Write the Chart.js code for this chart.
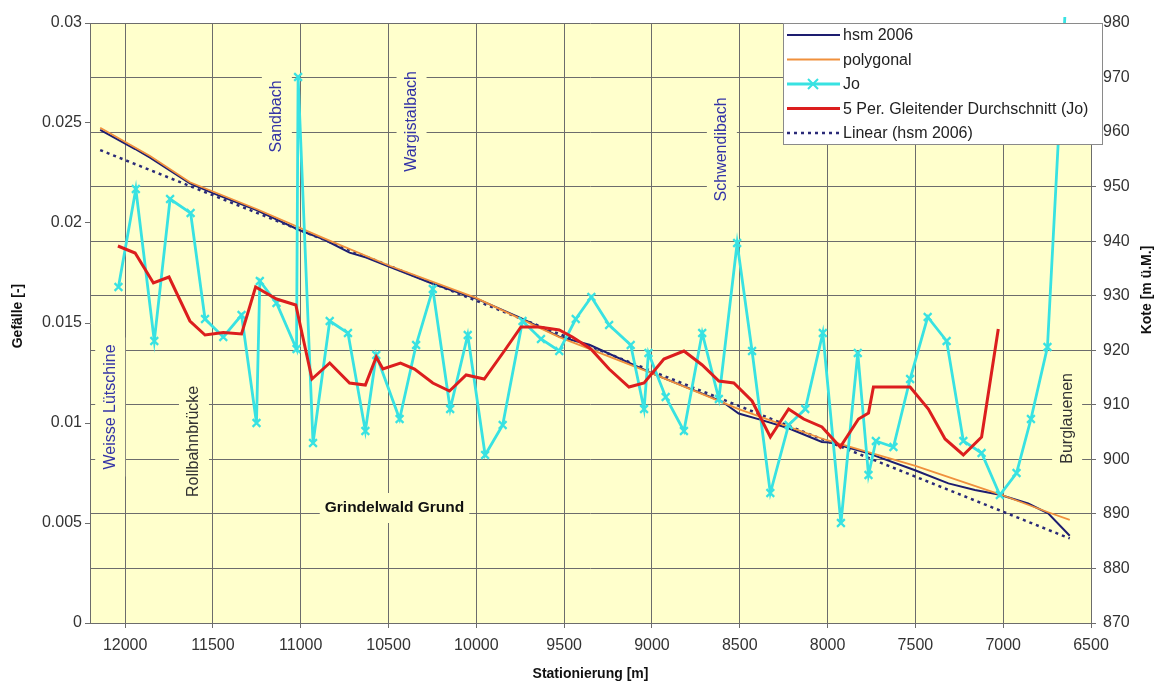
<!DOCTYPE html>
<html>
<head>
<meta charset="utf-8">
<script src="https://cdn.jsdelivr.net/npm/chart.js@4.4.1/dist/chart.umd.min.js"></script>
<style>
  html, body { margin: 0; padding: 0; background: #ffffff; }
  canvas { display: block; }
</style>
</head>
<body>
<canvas id="chart" width="1154" height="683"></canvas>
<script>
// Gefälle Jo (left axis) by Stationierung
const joStation = [12038, 11939, 11834, 11744, 11627, 11545, 11441, 11337, 11252, 11233,
  11138, 11024, 11015, 10930, 10835, 10731, 10632, 10570, 10437, 10343,
  10248, 10149, 10049, 9950, 9850, 9737, 9632, 9528, 9434, 9345,
  9244, 9121, 9045, 9020, 8922, 8818, 8714, 8619, 8515, 8430,
  8326, 8222, 8127, 8027, 7924, 7828, 7767, 7725, 7625, 7530,
  7430, 7322, 7227, 7123, 7019, 6924, 6842, 6748, 6649];
const joGefaelle = [0.0168, 0.0217, 0.0141, 0.0212, 0.0205, 0.0152, 0.0143, 0.0154, 0.0100, 0.0171,
  0.0160, 0.0137, 0.0273, 0.0090, 0.0151, 0.0145, 0.0096, 0.0134, 0.0102, 0.0139,
  0.0167, 0.0107, 0.0144, 0.0084, 0.0099, 0.0151, 0.0142, 0.0136, 0.0152, 0.0163,
  0.0149, 0.0139, 0.0107, 0.0135, 0.0113, 0.0096, 0.0145, 0.0112, 0.0190, 0.0136,
  0.0065, 0.0099, 0.0107, 0.0145, 0.0050, 0.0135, 0.0074, 0.0091, 0.0088, 0.0122,
  0.0153, 0.0141, 0.0091, 0.0085, 0.0064, 0.0075, 0.0102, 0.0138, 0.0303];

// 5-period moving average of Jo (left axis)
const mittelStation = [12041, 11943, 11839, 11750, 11631, 11545, 11441, 11337, 11257, 11138,
  11028, 10936, 10835, 10722, 10632, 10570, 10532, 10432, 10352, 10248,
  10153, 10058, 9955, 9841, 9746, 9642, 9528, 9453, 9348, 9244,
  9131, 9045, 8932, 8818, 8714, 8619, 8534, 8430, 8326, 8222,
  8136, 8032, 7928, 7824, 7767, 7739, 7578, 7530, 7426, 7331,
  7227, 7123, 7028];
const mittelGefaelle = [0.01885, 0.0185, 0.0170, 0.0173, 0.0151, 0.0144, 0.01453, 0.01445, 0.0168, 0.0162,
  0.0159, 0.0122, 0.0130, 0.0120, 0.0119, 0.0133, 0.0127, 0.0130, 0.0127, 0.0120,
  0.0116, 0.0124, 0.0122, 0.0136, 0.0148, 0.0148, 0.01465, 0.0143, 0.0137, 0.0127,
  0.0118, 0.0120, 0.0132, 0.0136, 0.0129, 0.0121, 0.0120, 0.0111, 0.0093, 0.0107,
  0.0102, 0.0098, 0.0088, 0.0102, 0.0105, 0.0118, 0.0118, 0.0118, 0.0107, 0.0092,
  0.0084, 0.0093, 0.0147];

// Sohlenkote hsm 2006 (right axis)
const hsmStation = [12142, 11943, 11858, 11631, 11500, 11252, 11006, 10873, 10722, 10627,
  10494, 10248, 10002, 9746, 9528, 9356, 8979, 8601, 8506, 8374,
  8222, 8032, 7985, 7767, 7502, 7312, 7161, 7019, 6858, 6744, 6621];
const hsmKote = [960.4, 956.9, 955.3, 950.6, 948.8, 945.7, 942.0, 940.4, 937.9, 937.0,
  935.3, 932.2, 929.5, 925.9, 922.5, 921.0, 915.5, 910.6, 908.4, 907.2,
  905.7, 903.2, 903.1, 901.1, 898.0, 895.6, 894.4, 893.5, 891.9, 890.1, 886.0];

// Polygonal approximation of the bed (right axis)
const polyStation = [12142, 11858, 11631, 11252, 10873, 10494, 10002, 9528, 9017, 8506,
  8013, 7500, 7019, 6744, 6621];
const polyKote = [960.8, 955.6, 950.8, 945.9, 940.6, 935.5, 929.6, 922.4, 916.0, 909.2,
  903.6, 898.8, 893.6, 890.3, 888.9];

// Linear trend of hsm 2006 (end points)
const trendStation = [12142, 6621];
const trendKote = [956.7, 885.5];

// Axis tick values
const stationTicks = [12000, 11500, 11000, 10500, 10000, 9500, 9000, 8500, 8000, 7500, 7000, 6500];
const gefaelleTicks = [0, 0.005, 0.01, 0.015, 0.02, 0.025, 0.03];
const koteTicks = [870, 880, 890, 900, 910, 920, 930, 940, 950, 960, 970, 980];

// Place names along the reach: [text, Stationierung, Gefälle, style]
const ortNamen = [
  ['Weisse Lütschine', 12085, 0.0108, 'fluss'],
  ['Sandbach', 11136, 0.02533, 'fluss'],
  ['Wargistalbach', 10369, 0.02508, 'fluss'],
  ['Schwendibach', 8602, 0.02368, 'fluss'],
  ['Rollbahnbrücke', 11608, 0.00908, 'ort'],
  ['Burglauenen', 6636, 0.01023, 'ort'],
  ['Grindelwald Grund', 10466, 0.00575, 'gebiet']
];

const pts = (xs, ys) => xs.map((x, i) => ({ x: x, y: ys[i] }));
const asTicks = (vals) => vals.map(v => ({ value: v }));

const FONT = '"Liberation Sans", Arial, Helvetica, sans-serif';
const PLOT_BG = '#ffffcc';
const GRID = '#6c6c6c';
const CYAN = '#38e2e2';

Chart.defaults.font.family = FONT;

const plotBackground = {
  id: 'plotBackground',
  beforeDraw(chart) {
    const { ctx, chartArea: a } = chart;
    ctx.save();
    ctx.fillStyle = PLOT_BG;
    ctx.fillRect(a.left, a.top, a.right - a.left, a.bottom - a.top);
    ctx.restore();
  }
};

const placeLabels = {
  id: 'placeLabels',
  beforeDatasetsDraw(chart) {
    const { ctx } = chart;
    const xs = chart.scales.x, ys = chart.scales.yL;
    ctx.save();
    ortNamen.forEach(([text, st, val, kind]) => {
      const px = xs.getPixelForValue(st);
      const py = ys.getPixelForValue(val);
      if (kind === 'gebiet') {
        ctx.font = 'bold 15.5px ' + FONT;
        const w = ctx.measureText(text).width;
        ctx.fillStyle = PLOT_BG;
        ctx.fillRect(px - w / 2 - 5, py - 15, w + 10, 30);
        ctx.fillStyle = '#111111';
        ctx.textAlign = 'center';
        ctx.textBaseline = 'middle';
        ctx.fillText(text, px, py);
      } else {
        ctx.font = '16px ' + FONT;
        const w = ctx.measureText(text).width;
        ctx.fillStyle = PLOT_BG;
        ctx.fillRect(px - 15, py - w / 2 - 7, 30, w + 14);
        ctx.translate(px, py);
        ctx.rotate(-Math.PI / 2);
        ctx.fillStyle = kind === 'fluss' ? '#3434a6' : '#333333';
        ctx.textAlign = 'center';
        ctx.textBaseline = 'middle';
        ctx.fillText(text, 0, 0);
        ctx.setTransform(1, 0, 0, 1, 0, 0);
      }
    });
    ctx.restore();
  }
};

const titlesAndLegend = {
  id: 'titlesAndLegend',
  afterDraw(chart) {
    const { ctx, chartArea: a } = chart;
    ctx.save();
    // axis titles
    ctx.fillStyle = '#111111';
    ctx.font = 'bold 14px ' + FONT;
    ctx.textAlign = 'center';
    ctx.textBaseline = 'middle';
    ctx.fillText('Stationierung [m]', (a.left + a.right) / 2, 674);
    ctx.translate(18, 316);
    ctx.rotate(-Math.PI / 2);
    ctx.fillText('Gefälle [-]', 0, 0);
    ctx.setTransform(1, 0, 0, 1, 0, 0);
    ctx.translate(1147, 290);
    ctx.rotate(-Math.PI / 2);
    ctx.fillText('Kote [m ü.M.]', 0, 0);
    ctx.setTransform(1, 0, 0, 1, 0, 0);

    // legend box
    const lx = 783, ly = a.top, lw = 320, lh = 122;
    ctx.fillStyle = '#ffffff';
    ctx.fillRect(lx, ly, lw, lh);
    ctx.strokeStyle = '#8a8a8a';
    ctx.lineWidth = 1;
    ctx.strokeRect(lx + 0.5, ly + 0.5, lw - 1, lh - 1);
    ctx.font = '16px ' + FONT;
    ctx.textAlign = 'left';
    ctx.textBaseline = 'middle';
    chart.data.datasets.forEach((ds, i) => {
      const yy = ly + 12 + i * 24.5;
      ctx.save();
      ctx.strokeStyle = ds.borderColor;
      ctx.lineWidth = ds.borderWidth;
      ctx.setLineDash(ds.borderDash || []);
      ctx.beginPath();
      ctx.moveTo(787, yy);
      ctx.lineTo(840, yy);
      ctx.stroke();
      if (ds.pointStyle === 'crossRot') {
        ctx.setLineDash([]);
        ctx.lineWidth = 2;
        const r = 5;
        ctx.beginPath();
        ctx.moveTo(813 - r, yy - r); ctx.lineTo(813 + r, yy + r);
        ctx.moveTo(813 - r, yy + r); ctx.lineTo(813 + r, yy - r);
        ctx.stroke();
      }
      ctx.restore();
      ctx.fillStyle = '#222222';
      ctx.fillText(ds.label, 843, yy + 1);
    });
    ctx.restore();
  }
};

new Chart(document.getElementById('chart'), {
  type: 'line',
  data: {
    datasets: [
      {
        label: 'hsm 2006',
        data: pts(hsmStation, hsmKote),
        yAxisID: 'yR',
        borderColor: '#1d1d70',
        borderWidth: 2,
        pointRadius: 0,
        order: 4
      },
      {
        label: 'polygonal',
        data: pts(polyStation, polyKote),
        yAxisID: 'yR',
        borderColor: '#f0903c',
        borderWidth: 1.8,
        pointRadius: 0,
        order: 2
      },
      {
        label: 'Jo',
        data: pts(joStation, joGefaelle),
        yAxisID: 'yL',
        borderColor: CYAN,
        borderWidth: 2.8,
        pointStyle: 'crossRot',
        pointRadius: (c) => (c.parsed && c.parsed.y > 0.03 ? 0 : 5.5),
        pointBorderWidth: 2.2,
        pointBorderColor: CYAN,
        pointBackgroundColor: CYAN,
        clip: false,
        order: 1
      },
      {
        label: '5 Per. Gleitender Durchschnitt (Jo)',
        data: pts(mittelStation, mittelGefaelle),
        yAxisID: 'yL',
        borderColor: '#dc1e1e',
        borderWidth: 3,
        pointRadius: 0,
        order: 0
      },
      {
        label: 'Linear (hsm 2006)',
        data: pts(trendStation, trendKote),
        yAxisID: 'yR',
        borderColor: '#2a2a78',
        borderWidth: 2.5,
        borderDash: [3, 4],
        pointRadius: 0,
        order: 3
      }
    ]
  },
  options: {
    responsive: false,
    animation: false,
    devicePixelRatio: 1,
    layout: { padding: { top: 23, left: 0, right: 0, bottom: 0 } },
    plugins: {
      legend: { display: false },
      tooltip: { enabled: false }
    },
    elements: { line: { tension: 0 } },
    scales: {
      x: {
        type: 'linear',
        reverse: true,
        min: 6500,
        max: 12200,
        afterBuildTicks(s) { s.ticks = asTicks(stationTicks); },
        afterFit(s) { s.height = 60; },
        ticks: {
          autoSkip: false,
          maxRotation: 0,
          padding: 8,
          color: '#333333',
          font: { size: 16 },
          callback: (v) => String(v)
        },
        grid: { color: GRID, lineWidth: 1, tickLength: 5 },
        border: { color: GRID }
      },
      yL: {
        position: 'left',
        min: 0,
        max: 0.03,
        afterBuildTicks(s) { s.ticks = asTicks(gefaelleTicks); },
        afterFit(s) { s.width = 90; },
        ticks: {
          padding: 3,
          color: '#333333',
          font: { size: 16 },
          callback: (v) => String(+Number(v).toFixed(3))
        },
        grid: { drawOnChartArea: false, color: GRID, tickLength: 5 },
        border: { color: GRID }
      },
      yR: {
        position: 'right',
        min: 870,
        max: 980,
        afterBuildTicks(s) { s.ticks = asTicks(koteTicks); },
        afterFit(s) { s.width = 63; },
        ticks: {
          padding: 7,
          color: '#333333',
          font: { size: 16 },
          callback: (v) => String(v)
        },
        grid: { drawOnChartArea: true, color: GRID, lineWidth: 1, tickLength: 5 },
        border: { color: GRID }
      }
    }
  },
  plugins: [plotBackground, placeLabels, titlesAndLegend]
});
</script>
</body>
</html>
